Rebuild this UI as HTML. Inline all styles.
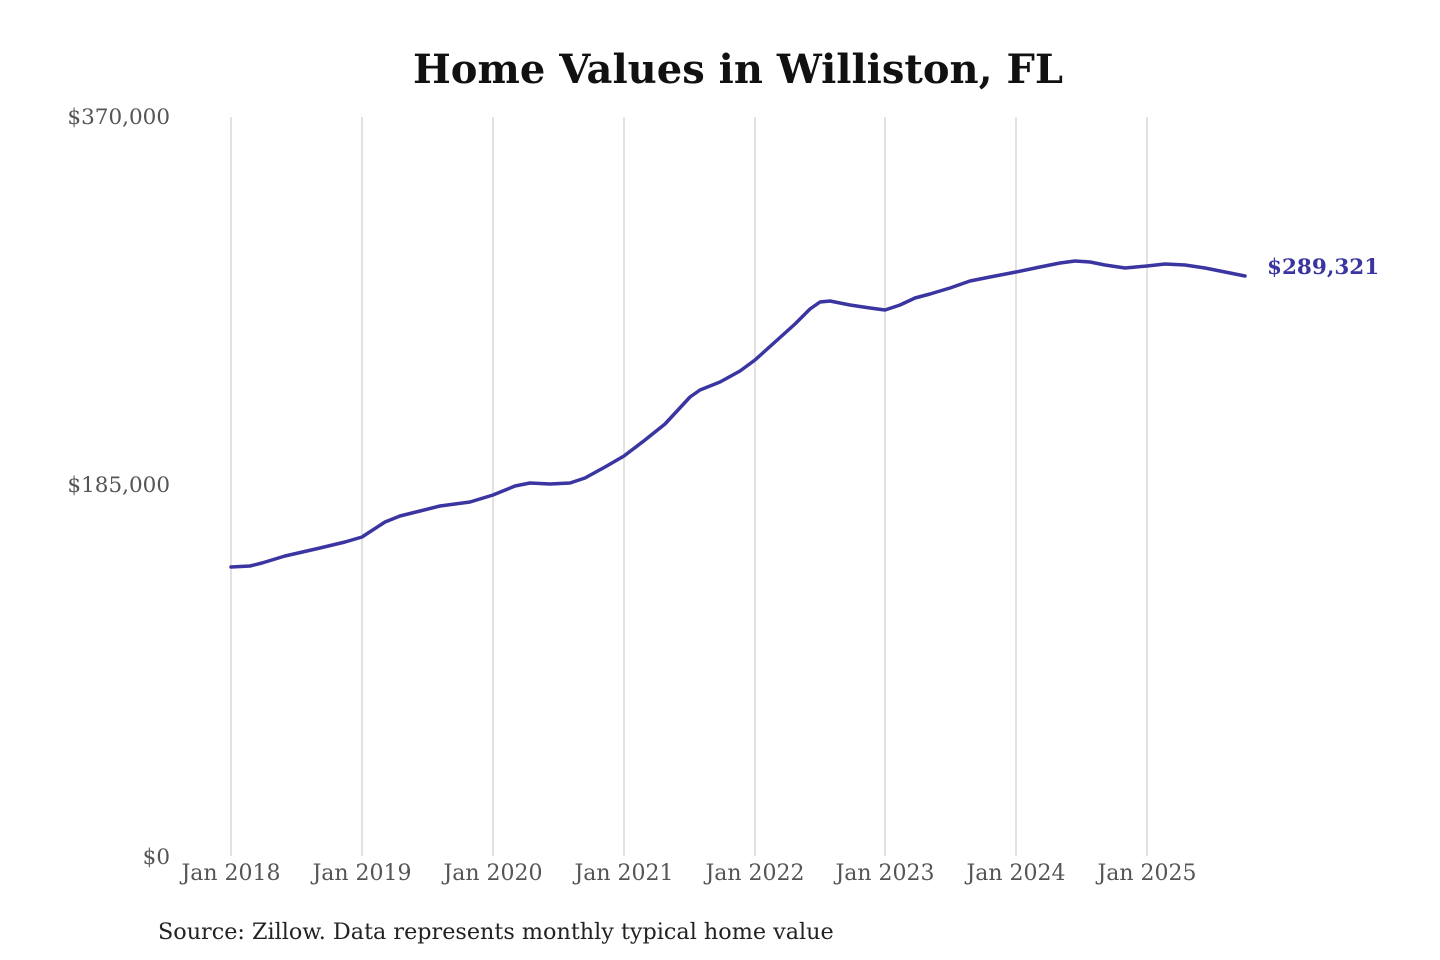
<!DOCTYPE html>
<html><head><meta charset="utf-8"><style>
html,body{margin:0;padding:0;background:#fff;}
svg{display:block;font-family:"DejaVu Serif","Liberation Serif",serif;}
</style></head><body>
<svg width="1440" height="960" viewBox="0 0 1440 960">
<text x="738" y="83" text-anchor="middle" font-size="40" font-weight="bold" fill="#111">Home Values in Williston, FL</text>
<g stroke="#c4c4c4" stroke-width="1">
<line x1="231" y1="117" x2="231" y2="856"/><line x1="362" y1="117" x2="362" y2="856"/>
<line x1="493" y1="117" x2="493" y2="856"/><line x1="624" y1="117" x2="624" y2="856"/>
<line x1="755" y1="117" x2="755" y2="856"/><line x1="885" y1="117" x2="885" y2="856"/>
<line x1="1016" y1="117" x2="1016" y2="856"/><line x1="1147" y1="117" x2="1147" y2="856"/>
</g>
<g font-size="21.5" fill="#555" text-anchor="end">
<text x="170" y="124">$370,000</text>
<text x="170" y="492">$185,000</text>
<text x="170" y="864">$0</text>
</g>
<g font-size="22" fill="#555" text-anchor="middle">
<text x="231" y="880">Jan 2018</text><text x="362" y="880">Jan 2019</text>
<text x="493" y="880">Jan 2020</text><text x="624" y="880">Jan 2021</text>
<text x="755" y="880">Jan 2022</text><text x="885" y="880">Jan 2023</text>
<text x="1016" y="880">Jan 2024</text><text x="1147" y="880">Jan 2025</text>
</g>
<polyline fill="none" stroke="#3a35a0" stroke-width="3.5" stroke-linejoin="round" stroke-linecap="round" points="231,567 250,566 262,563 285,556 320,548 345,542 362,537 385,522 400,516 420,511 440,506 470,502 493,495 515,486 530,483 550,484 570,483 585,478 605,467 624,456 645,440 665,424 690,397 700,390 720,382 740,371 755,360 775,342 795,324 810,309 820,302 830,301 850,305 870,308 885,310 900,305 915,298 930,294 950,288 970,281 990,277 1016,272 1040,267 1060,263 1075,261 1090,262 1105,265 1125,268 1147,266 1165,264 1185,265 1205,268 1230,273 1245,276"/>
<text x="1267" y="274" font-size="21.5" font-weight="bold" fill="#3a35a0">$289,321</text>
<text x="158" y="939" font-size="22.3" fill="#222">Source: Zillow. Data represents monthly typical home value</text>
</svg>
</body></html>
